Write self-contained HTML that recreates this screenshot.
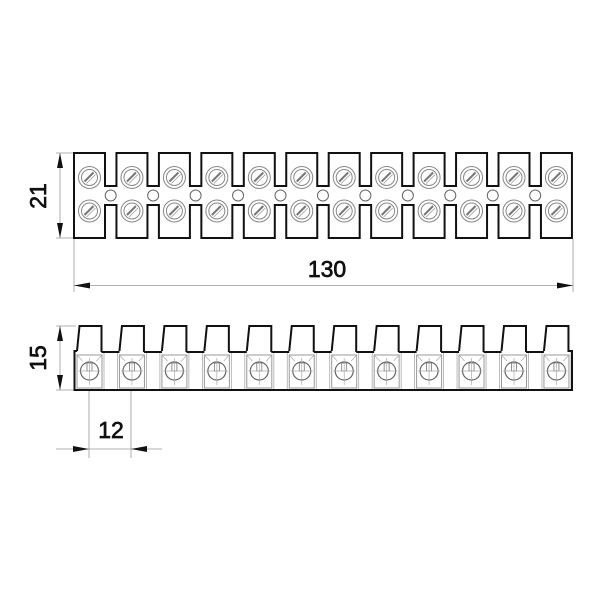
<!DOCTYPE html>
<html><head><meta charset="utf-8"><style>html,body{margin:0;padding:0;background:#fff}svg{display:block}</style></head><body>
<svg width="600" height="600" viewBox="0 0 600 600" xmlns="http://www.w3.org/2000/svg">
<defs>
<g id="scr" fill="none" stroke="#888" stroke-width="1">
<circle r="11"/><circle r="8"/><line x1="-5" y1="4" x2="4" y2="-5" stroke-width="2" stroke="#777"/><line x1="-3" y1="6" x2="6" y2="-3" stroke-width="0.8" stroke="#999"/>
</g>
<g id="col"><use href="#scr" y="177.5"/><use href="#scr" y="211"/></g>
<g id="seg" fill="none">
<path d="M-12.5,351 L-10,326 L12,326 L12,352" stroke="#111" stroke-width="2"/>
<rect x="-12.5" y="355" width="25" height="33" stroke="#999" stroke-width="1"/>
<circle cx="0" cy="371" r="9" stroke="#666" stroke-width="1.2"/>
<rect x="-2.5" y="363" width="5" height="8" stroke="#777" stroke-width="0.8"/>
<line x1="0" y1="358" x2="0" y2="385" stroke="#aaa" stroke-width="0.7"/>
<line x1="-11" y1="371" x2="11" y2="371" stroke="#aaa" stroke-width="0.7"/>
<line x1="-12.5" y1="355" x2="-7" y2="361" stroke="#aaa" stroke-width="0.7"/>
<line x1="12.5" y1="355" x2="7" y2="361" stroke="#aaa" stroke-width="0.7"/>
<line x1="14.5" y1="352" x2="14.5" y2="390" stroke="#aaa" stroke-width="0.8"/>
<line x1="-14.5" y1="352" x2="-14.5" y2="390" stroke="#aaa" stroke-width="0.8"/>
</g>
</defs>

<path fill="none" stroke="#111" stroke-width="2" d="M74,153 L105,153 L105,186 L116.45,186 L116.45,153 L147.45,153 L147.45,186 L158.9,186 L158.9,153 L189.9,153 L189.9,186 L201.35,186 L201.35,153 L232.35,153 L232.35,186 L243.8,186 L243.8,153 L274.8,153 L274.8,186 L286.25,186 L286.25,153 L317.25,153 L317.25,186 L328.7,186 L328.7,153 L359.7,153 L359.7,186 L371.15,186 L371.15,153 L402.15,153 L402.15,186 L413.6,186 L413.6,153 L444.6,153 L444.6,186 L456.05,186 L456.05,153 L487.05,153 L487.05,186 L498.5,186 L498.5,153 L529.5,153 L529.5,186 L540.95,186 L540.95,153 L571.95,153 L571.95,238 L540.95,238 L540.95,205 L529.5,205 L529.5,238 L498.5,238 L498.5,205 L487.05,205 L487.05,238 L456.05,238 L456.05,205 L444.6,205 L444.6,238 L413.6,238 L413.6,205 L402.15,205 L402.15,238 L371.15,238 L371.15,205 L359.7,205 L359.7,238 L328.7,238 L328.7,205 L317.25,205 L317.25,238 L286.25,238 L286.25,205 L274.8,205 L274.8,238 L243.8,238 L243.8,205 L232.35,205 L232.35,238 L201.35,238 L201.35,205 L189.9,205 L189.9,238 L158.9,238 L158.9,205 L147.45,205 L147.45,238 L116.45,238 L116.45,205 L105,205 L105,238 L74,238 Z"/>
<g><use href="#col" x="89.5"/><use href="#col" x="131.95"/><use href="#col" x="174.4"/><use href="#col" x="216.85"/><use href="#col" x="259.3"/><use href="#col" x="301.75"/><use href="#col" x="344.2"/><use href="#col" x="386.65"/><use href="#col" x="429.1"/><use href="#col" x="471.55"/><use href="#col" x="514"/><use href="#col" x="556.45"/></g>
<g fill="none" stroke="#666" stroke-width="1">
<circle cx="110.7" cy="195.5" r="5.5"/><circle cx="153.15" cy="195.5" r="5.5"/><circle cx="195.6" cy="195.5" r="5.5"/><circle cx="238.05" cy="195.5" r="5.5"/><circle cx="280.5" cy="195.5" r="5.5"/><circle cx="322.95" cy="195.5" r="5.5"/><circle cx="365.4" cy="195.5" r="5.5"/><circle cx="407.85" cy="195.5" r="5.5"/><circle cx="450.3" cy="195.5" r="5.5"/><circle cx="492.75" cy="195.5" r="5.5"/><circle cx="535.2" cy="195.5" r="5.5"/>
</g>

<g stroke="#999" stroke-width="0.8" fill="none">
<line x1="56" y1="153" x2="73" y2="153"/><line x1="56" y1="238" x2="73" y2="238"/>
<line x1="60" y1="153" x2="60" y2="238"/>
<line x1="74" y1="239" x2="74" y2="292"/><line x1="573" y1="239" x2="573" y2="292"/>
<line x1="74" y1="285.5" x2="573" y2="285.5"/>
<line x1="56" y1="326" x2="76" y2="326"/><line x1="56" y1="390" x2="74" y2="390"/>
<line x1="60" y1="326" x2="60" y2="390"/>
<line x1="89" y1="391" x2="89" y2="458"/><line x1="131" y1="391" x2="131" y2="458"/>
<line x1="56" y1="449" x2="162" y2="449"/>
</g>
<g fill="#111">
<polygon points="60,153 57,168 63,168"/><polygon points="60,238 57,223 63,223"/>
<polygon points="74,285.5 90,282.5 90,288.5"/><polygon points="573,285.5 557,282.5 557,288.5"/>
<polygon points="60,326 57,341 63,341"/><polygon points="60,390 57,375 63,375"/>
<polygon points="89,449 73,446 73,452"/><polygon points="131,449 147,446 147,452"/>
</g>
<g font-family="Liberation Sans, sans-serif" font-size="23" fill="#111" stroke="#111" stroke-width="0.7">
<text x="327" y="277" text-anchor="middle">130</text>
<text x="111" y="438" text-anchor="middle">12</text>
<text transform="translate(46,196) rotate(-90)" text-anchor="middle">21</text>
<text transform="translate(46,358) rotate(-90)" text-anchor="middle">15</text>
</g>

<g><use href="#seg" x="89.5"/><use href="#seg" x="131.95"/><use href="#seg" x="174.4"/><use href="#seg" x="216.85"/><use href="#seg" x="259.3"/><use href="#seg" x="301.75"/><use href="#seg" x="344.2"/><use href="#seg" x="386.65"/><use href="#seg" x="429.1"/><use href="#seg" x="471.55"/><use href="#seg" x="514"/><use href="#seg" x="556.45"/></g>
<g stroke="#111" stroke-width="2" fill="none">
<line x1="101.5" y1="352" x2="119.45" y2="352"/><line x1="143.95" y1="352" x2="161.9" y2="352"/><line x1="186.4" y1="352" x2="204.35" y2="352"/><line x1="228.85" y1="352" x2="246.8" y2="352"/><line x1="271.3" y1="352" x2="289.25" y2="352"/><line x1="313.75" y1="352" x2="331.7" y2="352"/><line x1="356.2" y1="352" x2="374.15" y2="352"/><line x1="398.65" y1="352" x2="416.6" y2="352"/><line x1="441.1" y1="352" x2="459.05" y2="352"/><line x1="483.55" y1="352" x2="501.5" y2="352"/><line x1="526" y1="352" x2="543.95" y2="352"/>
<path d="M77,351 L74.5,351 L74.5,390 L572,390 L572,351 L568.45,351"/>
</g>
</svg>
</body></html>
